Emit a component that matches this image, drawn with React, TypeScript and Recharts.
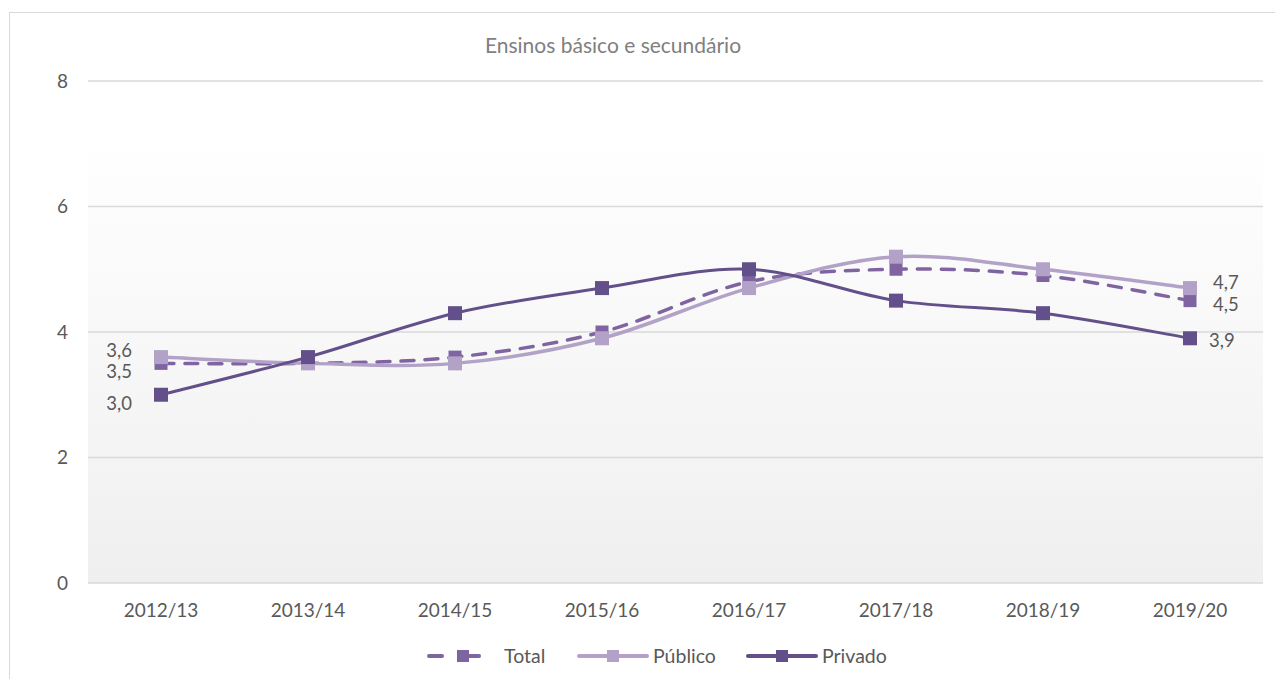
import { LineChart, Line, XAxis, YAxis, CartesianGrid } from 'recharts';

const years = ['2012/13', '2013/14', '2014/15', '2015/16', '2016/17', '2017/18', '2018/19', '2019/20'];
const total = [3.5, 3.5, 3.6, 4.0, 4.8, 5.0, 4.9, 4.5];
const publico = [3.6, 3.5, 3.5, 3.9, 4.7, 5.2, 5.0, 4.7];
const privado = [3.0, 3.6, 4.3, 4.7, 5.0, 4.5, 4.3, 3.9];
const yTicks = [0, 2, 4, 6, 8];

const data = years.map((year, i) => ({
  year,
  total: total[i],
  publico: publico[i],
  privado: privado[i],
}));

const FONT = 'Lato, "Open Sans", sans-serif';
const TEXT = '#595959';
const C_TOTAL = '#8064a2';
const C_PUB = '#b3a2c7';
const C_PRIV = '#63508a';

// excel-like smoothing (catmull-rom)
const smooth = (context: any) => {
  let pts: number[][] = [];
  return {
    areaStart() {},
    areaEnd() {},
    lineStart() {
      pts = [];
    },
    point(x: number, y: number) {
      pts.push([+x, +y]);
    },
    lineEnd() {
      const n = pts.length;
      if (!n) return;
      context.moveTo(pts[0][0], pts[0][1]);
      for (let i = 0; i < n - 1; i++) {
        const p0 = pts[i - 1] || pts[i];
        const p1 = pts[i];
        const p2 = pts[i + 1];
        const p3 = pts[i + 2] || pts[i + 1];
        context.bezierCurveTo(
          p1[0] + (p2[0] - p0[0]) / 6,
          p1[1] + (p2[1] - p0[1]) / 6,
          p2[0] - (p3[0] - p1[0]) / 6,
          p2[1] - (p3[1] - p1[1]) / 6,
          p2[0],
          p2[1]
        );
      }
    },
  };
};

const fmt = (v: number) => v.toFixed(1).replace('.', ',');

// square marker + end labels
const makeDot = (color: string, size: number, firstDy: number, lastDx: number, lastDy: number) => (props: any) => {
  const { cx, cy, index, value } = props;
  if (cx == null || cy == null) return <g key={index} />;
  const last = index === years.length - 1;
  return (
    <g key={index}>
      <rect x={cx - size / 2} y={cy - size / 2} width={size} height={size} fill={color} />
      {index === 0 && (
        <text x={cx - 29} y={cy + firstDy} textAnchor="end" dominantBaseline="central" fontSize={18.5} fill={TEXT} fontFamily={FONT}>
          {fmt(value)}
        </text>
      )}
      {last && (
        <text x={cx + lastDx} y={cy + lastDy} textAnchor="start" dominantBaseline="central" fontSize={18.5} fill={TEXT} fontFamily={FONT}>
          {fmt(value)}
        </text>
      )}
    </g>
  );
};

function LegendItem({ left, textLeft, color, label, dashed }: { left: number; textLeft: number; color: string; label: string; dashed?: boolean }) {
  const w = dashed ? 54 : 72;
  return (
    <>
      <svg width={w} height={16} style={{ position: 'absolute', left, top: 10 }}>
        <line
          x1={2}
          y1={8}
          x2={w - 2}
          y2={8}
          stroke={color}
          strokeWidth={4}
          strokeLinecap="round"
          strokeDasharray={dashed ? '13 37' : undefined}
        />
        {dashed && <line x1={41} y1={8} x2={w - 2} y2={8} stroke={color} strokeWidth={4} strokeLinecap="round" />}
        <rect x={30} y={2} width={12} height={12} fill={color} />
      </svg>
      <span style={{ position: 'absolute', left: textLeft, top: 6, lineHeight: '24px' }}>{label}</span>
    </>
  );
}

export default function App() {
  return (
    <div style={{ position: 'relative', width: 1267, height: 671, overflow: 'hidden', background: '#fff' }}>
      <div
        style={{
          position: 'absolute',
          left: 1,
          top: 4,
          width: 1300,
          height: 700,
          borderLeft: '1.5px solid #d9d9d9',
          borderTop: '1.5px solid #d9d9d9',
        }}
      />
      <div
        style={{
          position: 'absolute',
          left: 405,
          width: 400,
          top: 24,
          textAlign: 'center',
          fontFamily: FONT,
          fontSize: 21,
          color: '#7f7f7f',
        }}
      >
        Ensinos básico e secundário
      </div>
      <LineChart width={1267} height={671} data={data} margin={{ top: 73, right: 12, left: 0, bottom: 0 }}>
        <defs>
          <linearGradient id="plotBg" x1="0" y1="0" x2="0" y2="1">
            <stop offset="0%" stopColor="#ffffff" />
            <stop offset="11%" stopColor="#ffffff" />
            <stop offset="100%" stopColor="#efefef" />
          </linearGradient>
        </defs>
        <CartesianGrid vertical={false} stroke="#d9d9d9" strokeWidth={1.5} fill="url(#plotBg)" fillOpacity={1} />
        <XAxis
          dataKey="year"
          height={96}
          tickLine={false}
          axisLine={false}
          padding={{ left: 73, right: 73 }}
          tick={{ fill: TEXT, fontSize: 19, fontFamily: FONT }}
          tickMargin={15}
          interval={0}
        />
        <YAxis
          domain={[0, 8]}
          ticks={yTicks}
          width={80}
          tickLine={false}
          axisLine={false}
          tick={{ fill: TEXT, fontSize: 19, fontFamily: FONT }}
          tickMargin={14}
        />
        <Line
          dataKey="total"
          type={smooth as any}
          stroke={C_TOTAL}
          strokeWidth={3.5}
          strokeDasharray="13 11"
          strokeLinecap="round"
          dot={makeDot(C_TOTAL, 13, 8, 23, 3)}
          activeDot={false}
          isAnimationActive={false}
        />
        <Line
          dataKey="publico"
          type={smooth as any}
          stroke={C_PUB}
          strokeWidth={3.5}
          dot={makeDot(C_PUB, 14, -7, 23, -6)}
          activeDot={false}
          isAnimationActive={false}
        />
        <Line
          dataKey="privado"
          type={smooth as any}
          stroke={C_PRIV}
          strokeWidth={3}
          dot={makeDot(C_PRIV, 14, 8, 19, 2)}
          activeDot={false}
          isAnimationActive={false}
        />
      </LineChart>
      <div
        style={{
          position: 'absolute',
          top: 630,
          left: 0,
          width: 1267,
          height: 36,
          fontFamily: FONT,
          fontSize: 19.5,
          color: TEXT,
        }}
      >
        <LegendItem left={419} textLeft={496} color={C_TOTAL} label="Total" dashed />
        <LegendItem left={569} textLeft={645} color={C_PUB} label="Público" />
        <LegendItem left={738} textLeft={814} color={C_PRIV} label="Privado" />
      </div>
    </div>
  );
}
